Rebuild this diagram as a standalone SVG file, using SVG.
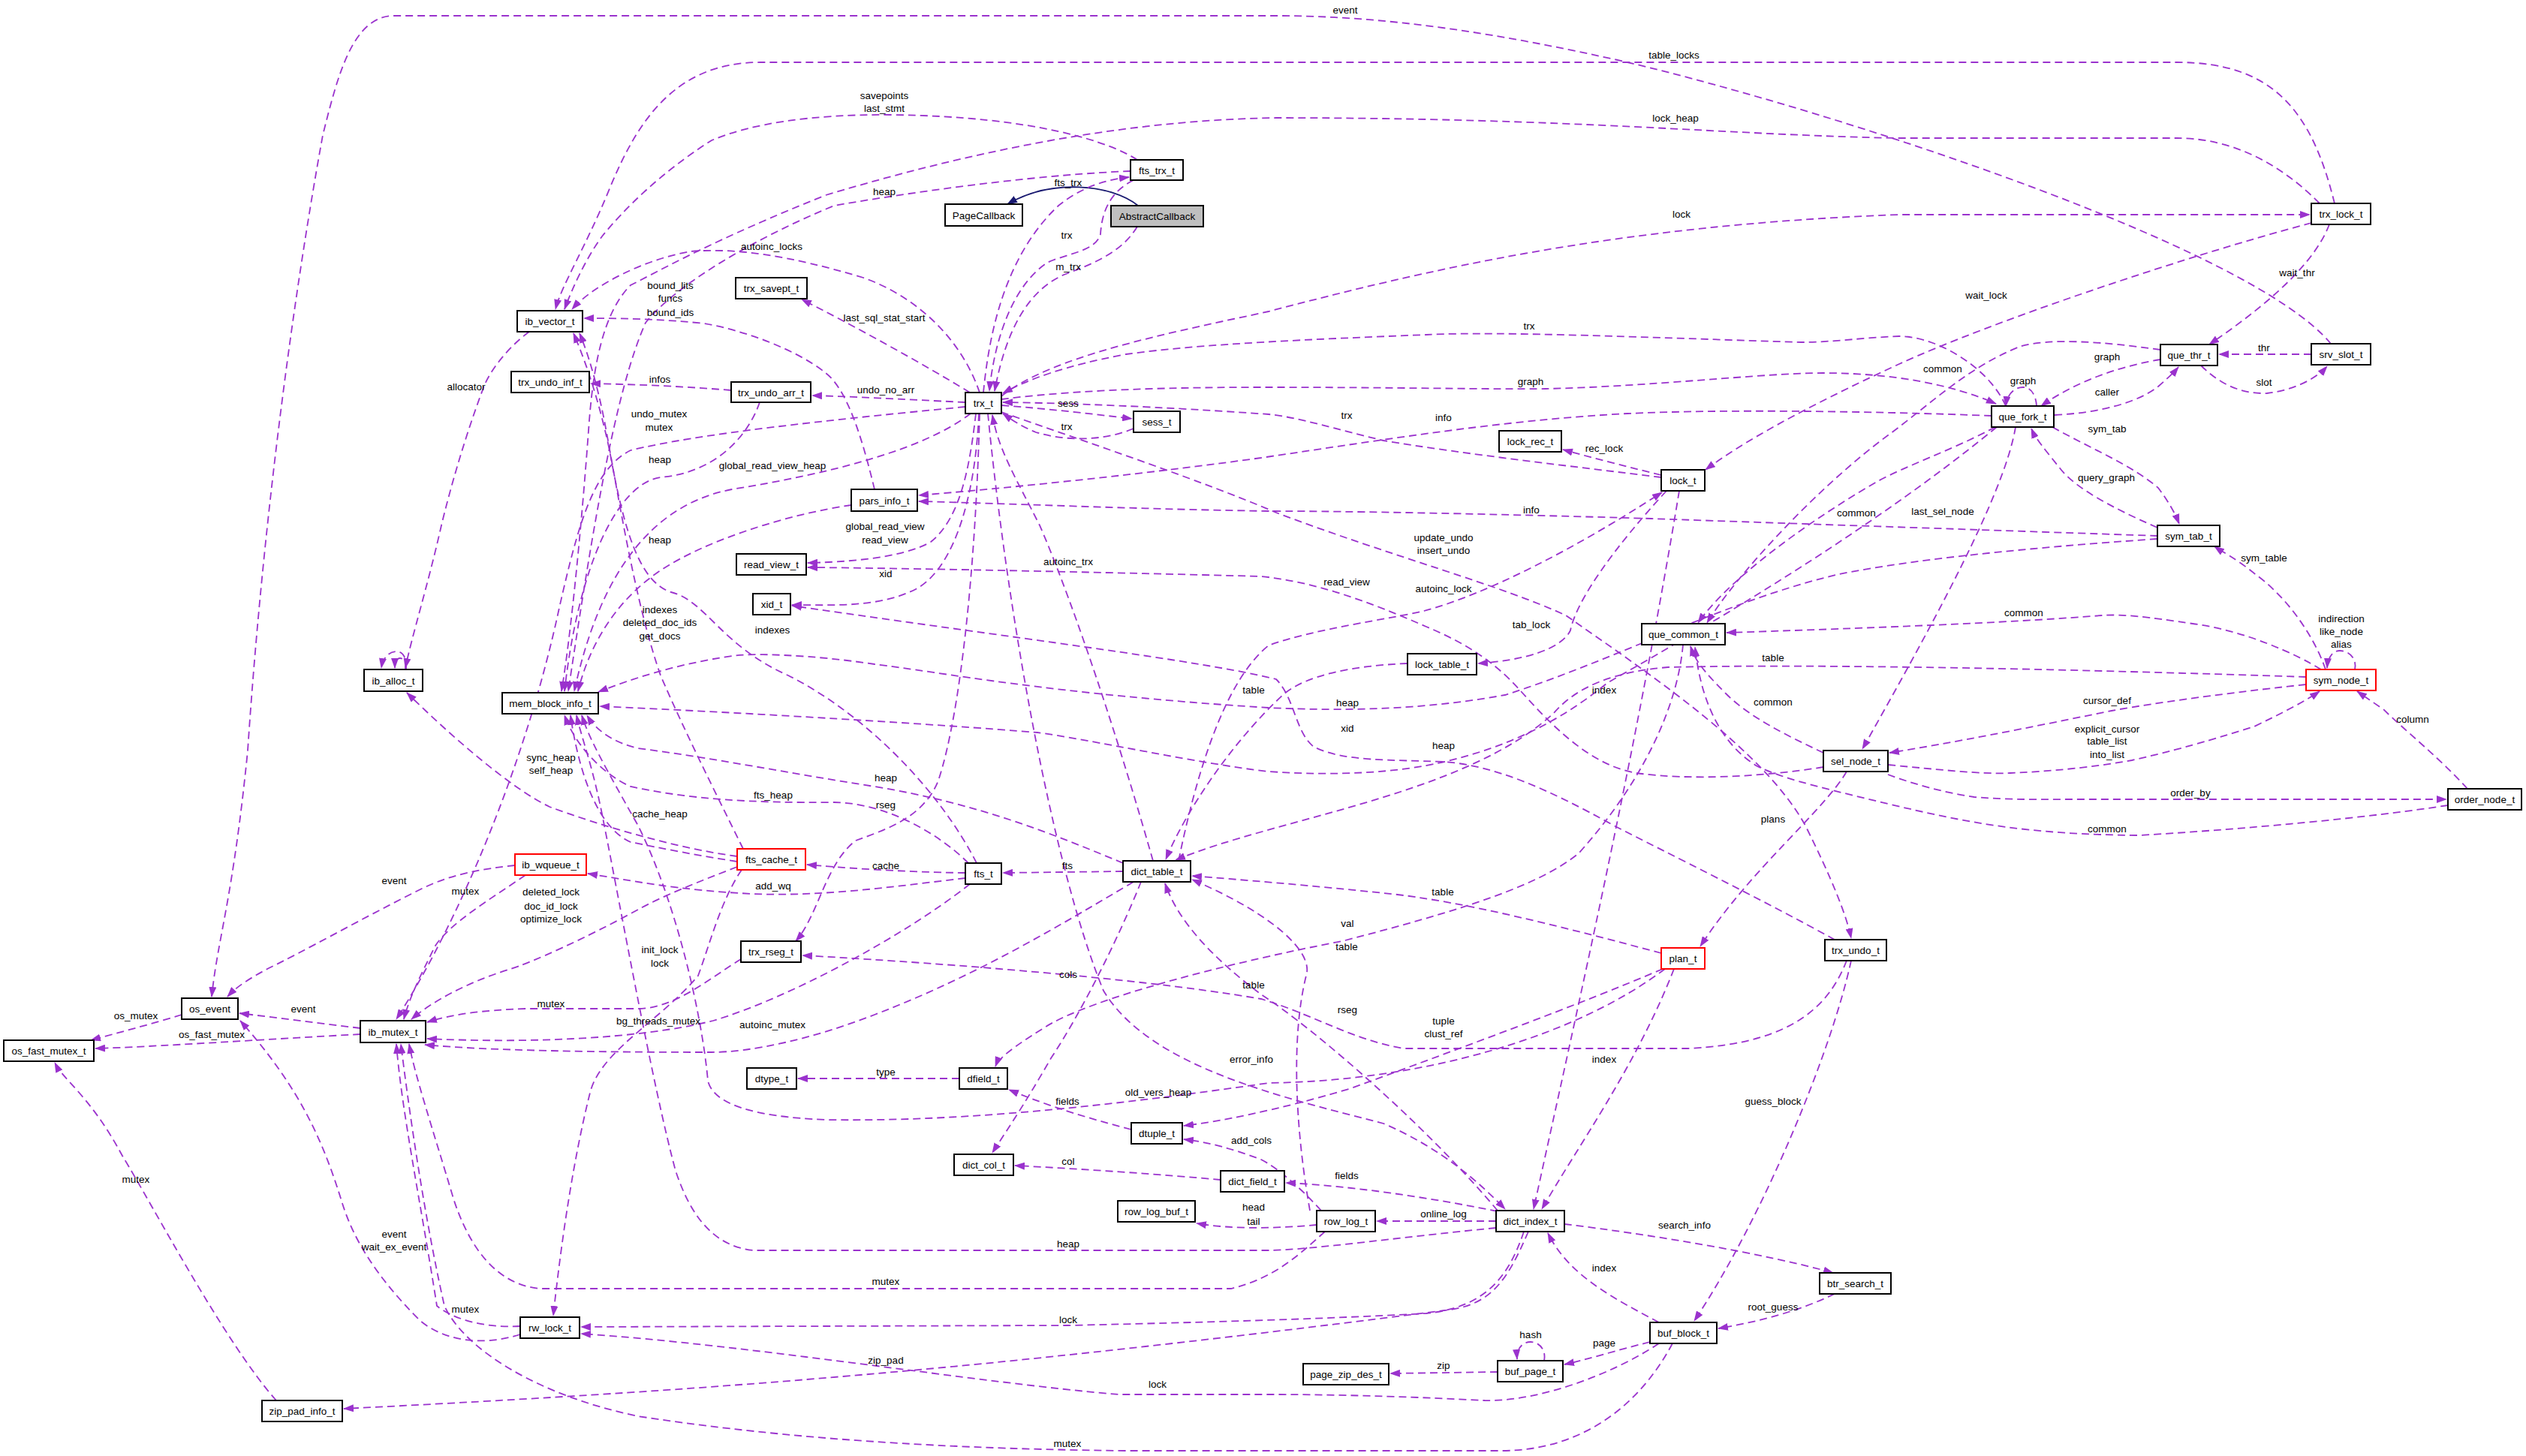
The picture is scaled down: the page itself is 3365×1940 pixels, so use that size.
<svg xmlns="http://www.w3.org/2000/svg" width="3365" height="1940" viewBox="0 0 3365 1940">
<defs>
<marker id="a" markerUnits="userSpaceOnUse" viewBox="0 0 14 10" markerWidth="14" markerHeight="10" refX="13" refY="5" orient="auto"><path d="M0,0 L14,5 L0,10 z" fill="#9a32cd"/></marker>
<marker id="b" markerUnits="userSpaceOnUse" viewBox="0 0 14 10" markerWidth="14" markerHeight="10" refX="13" refY="5" orient="auto"><path d="M0,0 L14,5 L0,10 z" fill="#191970"/></marker>
</defs>
<style>
.e path{fill:none;stroke:#9a32cd;stroke-width:1.8;stroke-dasharray:10,6;marker-end:url(#a)}
.e path.i{stroke:#191970;stroke-dasharray:none;marker-end:url(#b)}
.n rect{fill:#fff;stroke:#000;stroke-width:2}
.n.r rect{stroke:#f00}
.n.g rect{fill:#bfbfbf}
text{font-family:"Liberation Sans",Arial,sans-serif;font-size:13.5px;fill:#000;text-anchor:middle}
</style>
<rect x="0" y="0" width="3365" height="1940" fill="#fff"/>
<g id="connectors" class="e">
<path class="i" d="M1516,274 C1480,245 1400,238 1342,272"/>
<path d="M1515,302 C1495,335 1460,350 1420,365 C1370,385 1340,440 1325,521"/>
<path d="M1510,240 C1480,255 1468,280 1466,312 C1460,335 1420,338 1395,350 C1350,380 1325,450 1318,521"/>
<path d="M1310,523 C1318,440 1340,340 1410,274 C1440,250 1470,240 1504,236"/>
<path d="M1334,528 C1400,475 1550,445 1690,415 C1900,360 2150,300 2530,286 L3077,286"/>
<path d="M1292,523 C1230,485 1130,430 1068,399"/>
<path d="M1286,536 C1200,532 1130,528 1082,527"/>
<path d="M974,520 C900,514 840,512 787,511"/>
<path d="M1012,536 C995,585 950,630 880,636 C820,645 770,760 752,921"/>
<path d="M1286,542 C1100,560 930,578 840,600 C790,625 770,700 745,810 C700,1020 610,1230 528,1358"/>
<path d="M1293,551 C1230,600 1100,632 975,652 C870,672 800,760 765,921"/>
<path d="M1316,551 C1340,800 1400,1150 1470,1320 C1530,1420 1700,1460 1843,1497 C1920,1530 1970,1575 2005,1611"/>
<path d="M1536,1147 C1480,950 1420,780 1385,700 C1355,640 1330,600 1322,553"/>
<path d="M1334,549 C1450,590 1600,640 1700,683 C1850,740 2000,780 2086,820 C2200,900 2350,1000 2405,1100 C2440,1170 2460,1220 2466,1250"/>
<path d="M1510,571 C1470,588 1420,588 1380,576 C1360,568 1346,558 1336,551"/>
<path d="M1334,540 C1400,545 1460,552 1508,558"/>
<path d="M2672,541 C2650,490 2580,448 2530,448 C2480,450 2440,456 2400,456 C2200,450 2000,441 1900,446 C1750,452 1600,458 1500,472 C1420,487 1370,505 1336,524"/>
<path d="M1334,532 C1450,517 1600,516 1690,516 C1850,516 2000,519 2059,518 C2200,515 2350,497 2428,497 C2520,497 2600,512 2659,538"/>
<path d="M2213,636 C2100,622 1950,605 1843,587 C1780,572 1730,556 1690,552 C1550,542 1420,537 1336,536"/>
<path d="M2653,554 C2500,548 2300,545 2168,551 C2000,560 1850,585 1680,610 C1500,635 1320,652 1224,660"/>
<path d="M2874,714 C2700,708 2400,698 2200,691 C2000,685 1800,681 1690,681 C1500,678 1350,671 1224,668"/>
<path d="M2213,633 C2160,620 2110,607 2082,599"/>
<path d="M3079,297 C2900,345 2650,430 2530,485 C2400,545 2320,590 2272,626"/>
<path d="M3103,299 C3080,360 3000,420 2943,459"/>
<path d="M3079,472 L2956,472"/>
<path d="M2932,487 C2960,515 2990,525 3020,524 C3055,520 3085,505 3100,488"/>
<path d="M2878,479 C2830,487 2770,505 2719,541"/>
<path d="M2737,553 C2800,550 2850,535 2875,515 C2890,502 2897,495 2902,489"/>
<path d="M2713,541 C2712,525 2705,516 2695,516 C2684,516 2674,524 2672,541"/>
<path d="M2878,466 C2800,455 2730,450 2690,462 C2620,490 2570,540 2515,580 C2420,650 2310,770 2274,830"/>
<path d="M2658,569 C2600,600 2540,620 2500,642 C2400,700 2300,775 2262,830"/>
<path d="M3092,892 C3060,872 2990,840 2921,831 C2860,822 2830,818 2800,820 C2700,828 2550,835 2300,843"/>
<path d="M2429,1003 C2380,980 2330,955 2300,925 C2270,895 2258,880 2252,861"/>
<path d="M3261,1073 C3150,1090 3000,1104 2850,1113 C2700,1112 2620,1096 2515,1071 C2450,1055 2380,1040 2341,1021 C2290,990 2265,930 2258,862"/>
<path d="M2242,859 C2235,940 2190,1040 2103,1137 C2050,1180 1950,1212 1788,1254 C1650,1280 1450,1330 1390,1370 C1350,1395 1330,1410 1326,1421"/>
<path d="M2734,569 C2790,600 2840,620 2875,650 C2890,670 2898,685 2903,698"/>
<path d="M2874,703 C2810,675 2765,650 2745,625 C2725,600 2712,585 2706,571"/>
<path d="M2685,569 C2670,660 2570,840 2481,998"/>
<path d="M2660,569 C2500,700 2300,820 2141,910 C2080,960 2010,995 1924,1015 C1860,1030 1780,1034 1690,1028 C1600,1018 1450,985 1382,976 C1250,965 1000,950 799,941"/>
<path d="M2874,718 C2700,730 2550,745 2450,765 C2300,800 2150,880 2005,926 C1900,945 1800,948 1690,943 C1400,925 1250,895 1165,885 C1080,872 1000,870 975,874 C900,885 840,905 797,922"/>
<path d="M3098,892 C3080,840 3040,790 3003,764 C2980,745 2960,735 2950,728"/>
<path d="M3137,892 C3140,878 3130,867 3117,867 C3107,867 3101,876 3100,890"/>
<path d="M3072,912 C2950,925 2850,940 2813,947 C2700,970 2600,990 2517,1003"/>
<path d="M2515,1019 C2580,1025 2640,1032 2678,1030 C2750,1027 2800,1020 2840,1013 C2920,995 2980,975 3003,968 C3040,950 3070,935 3090,921"/>
<path d="M2515,1032 C2550,1045 2590,1056 2630,1062 C2680,1066 2720,1065 2760,1065 L3259,1065"/>
<path d="M3287,1051 C3250,1010 3200,970 3175,945 C3160,935 3150,928 3140,921"/>
<path d="M3072,902 C2800,893 2450,884 2222,889 C2150,895 2100,915 2070,950 C1950,1060 1700,1090 1566,1146"/>
<path d="M2460,1028 C2430,1080 2330,1160 2265,1261"/>
<path d="M2429,1022 C2350,1035 2250,1040 2180,1030 C2120,1020 2070,970 2027,922 C1990,880 1950,856 1900,835 C1820,800 1750,775 1680,768 C1450,762 1200,757 1076,756"/>
<path d="M2220,654 C2150,730 2100,800 2092,840 C2080,865 2030,880 1969,884"/>
<path d="M1570,1147 C1600,1000 1640,900 1690,860 C1750,838 1850,825 1897,814 C1980,792 2100,730 2214,656"/>
<path d="M1875,884 C1800,887 1740,900 1710,925 C1640,990 1580,1080 1553,1145"/>
<path d="M2237,654 C2180,1000 2100,1350 2043,1611"/>
<path d="M1496,1161 L1336,1163"/>
<path d="M1286,1163 C1200,1162 1120,1156 1075,1152"/>
<path d="M1286,1170 C1200,1180 1100,1195 1003,1191 C900,1186 840,1173 783,1164"/>
<path d="M1290,1150 C1250,1110 1180,1070 1111,1069 C1000,1070 920,1065 840,1048 C800,1030 765,990 752,953"/>
<path d="M1301,1150 C1250,1050 1150,950 1050,900 C960,860 940,800 894,789 C850,775 830,700 812,600 C795,520 775,470 764,444"/>
<path d="M1292,1178 C1200,1250 1050,1330 950,1360 C850,1385 700,1390 569,1384"/>
<path d="M1510,1175 C1400,1240 1300,1300 1165,1352 C1080,1385 1000,1402 948,1402 C800,1402 650,1400 566,1392"/>
<path d="M987,1278 C950,1300 900,1344 850,1344 L700,1344 C640,1346 600,1352 569,1362"/>
<path d="M982,1155 C930,1175 880,1195 850,1212 C780,1250 710,1282 677,1292 C620,1310 575,1335 548,1358"/>
<path d="M988,1159 C960,1200 945,1260 930,1300 C880,1360 800,1400 786,1456 C760,1560 745,1680 737,1753"/>
<path d="M982,1141 C900,1130 800,1100 732,1075 C680,1050 600,980 542,923"/>
<path d="M990,1131 C950,1050 910,970 880,900 C845,800 822,650 805,560 C795,510 783,470 772,444"/>
<path d="M982,1148 C930,1140 880,1130 840,1122 C790,1100 768,1010 760,953"/>
<path d="M686,1153 C640,1158 600,1165 560,1185 C480,1225 400,1270 358,1290 C330,1305 315,1315 303,1328"/>
<path d="M700,1166 C650,1200 600,1230 580,1260 C560,1300 545,1330 538,1358"/>
<path d="M480,1370 L319,1350"/>
<path d="M480,1378 C350,1385 200,1395 127,1397"/>
<path d="M242,1352 C200,1365 150,1378 121,1386"/>
<path d="M368,1866 C300,1790 200,1600 163,1540 C120,1460 85,1440 73,1416"/>
<path d="M693,1778 C640,1795 590,1785 560,1760 C500,1700 470,1650 455,1600 C430,1520 400,1450 320,1360"/>
<path d="M693,1767 C640,1770 600,1755 582,1740 C560,1600 535,1480 528,1391"/>
<path d="M2228,1790 C2180,1880 2100,1933 2000,1933 L1500,1933 C1200,1930 1000,1910 850,1887 C720,1860 620,1800 592,1740 C565,1620 545,1480 534,1391"/>
<path d="M1765,1641 C1730,1672 1700,1702 1640,1717 L720,1717 C660,1712 625,1660 605,1600 C575,1500 552,1430 545,1391"/>
<path d="M1993,1636 C1850,1650 1750,1665 1690,1666 L1003,1666 C950,1660 920,1620 900,1560 C870,1450 825,1200 805,1100 C790,1020 775,985 768,953"/>
<path d="M1993,1627 L1834,1627"/>
<path d="M1995,1614 C1900,1595 1800,1580 1713,1576"/>
<path d="M1995,1613 C1900,1500 1750,1370 1680,1325 C1620,1280 1570,1230 1552,1177"/>
<path d="M2084,1631 C2200,1645 2350,1670 2442,1696"/>
<path d="M2210,1762 C2150,1730 2090,1700 2062,1643"/>
<path d="M2198,1788 C2150,1800 2120,1810 2084,1818"/>
<path d="M2444,1724 C2400,1745 2350,1760 2289,1770"/>
<path d="M2466,1280 C2440,1400 2350,1620 2257,1760"/>
<path d="M2460,1280 C2440,1330 2400,1390 2249,1397 L1870,1397 C1800,1385 1750,1352 1680,1331 C1500,1300 1200,1280 1069,1273"/>
<path d="M2444,1252 C2350,1200 2222,1137 2150,1100 C2060,1050 1990,1020 1924,1015 C1850,1012 1790,1015 1750,995 C1725,975 1725,930 1700,905 C1600,880 1350,850 1055,807"/>
<path d="M2057,1813 C2060,1798 2050,1788 2039,1788 C2028,1788 2020,1797 2021,1811"/>
<path d="M1995,1828 L1852,1830"/>
<path d="M2210,1790 C2150,1830 2050,1868 1978,1866 C1900,1862 1800,1858 1690,1858 L1490,1858 C1300,1842 1000,1792 774,1777"/>
<path d="M2030,1641 C2010,1700 1980,1742 1900,1750 C1750,1758 1600,1762 1423,1766 L774,1768"/>
<path d="M2036,1641 C2010,1700 1990,1740 1924,1746 C1700,1775 1400,1810 1180,1829 C1000,1845 800,1860 458,1877"/>
<path d="M1278,1437 L1063,1437"/>
<path d="M1507,1505 C1450,1490 1400,1475 1344,1452"/>
<path d="M1626,1572 C1550,1565 1450,1558 1352,1553"/>
<path d="M1754,1632 C1700,1637 1640,1638 1594,1630"/>
<path d="M1760,1613 C1730,1580 1700,1555 1680,1545 C1640,1530 1610,1522 1577,1518"/>
<path d="M1745,1613 C1725,1500 1720,1380 1740,1300 C1750,1270 1700,1220 1588,1172"/>
<path d="M2213,1270 C2100,1240 1950,1200 1843,1190 C1750,1180 1650,1172 1588,1167"/>
<path d="M2230,1291 C2180,1420 2100,1530 2054,1611"/>
<path d="M2215,1291 C2100,1340 1950,1395 1800,1450 C1700,1480 1620,1495 1577,1500"/>
<path d="M2218,1291 C2100,1380 1900,1440 1690,1443 C1500,1470 1300,1495 1100,1492 C1000,1488 950,1470 943,1440 C935,1350 900,1200 850,1100 C805,1020 785,985 775,953"/>
<path d="M1520,1175 C1490,1250 1440,1350 1400,1410 C1360,1480 1335,1515 1322,1536"/>
<path d="M1496,1150 C1400,1110 1300,1070 1165,1048 C1050,1030 950,1010 850,997 C820,990 795,975 782,953"/>
<path d="M705,442 C680,460 655,490 645,514 C620,580 600,650 588,700 C570,780 548,850 540,890"/>
<path d="M540,892 C543,878 537,868 528,868 C518,868 510,877 508,890"/>
<path d="M541,892 C542,883 538,877 533,877 C528,877 526,883 526,890"/>
<path d="M3090,271 C3020,200 2950,184 2900,184 L2530,184 C2300,180 2100,157 1700,157 C1500,160 1300,200 1100,260 C950,320 880,360 840,380 C800,420 790,500 785,560 C775,700 760,850 748,921"/>
<path d="M3110,271 C3080,150 3030,83 2900,83 L1013,83 C900,83 850,160 813,249 C780,330 748,380 740,412"/>
<path d="M1515,213 C1480,190 1380,155 1187,153 C1080,152 1000,165 948,187 C880,230 830,280 802,315 C780,345 762,385 752,412"/>
<path d="M1506,228 C1400,232 1250,250 1111,274 C1000,320 900,380 860,430 C820,520 790,700 757,921"/>
<path d="M1305,523 C1280,450 1220,395 1150,370 C1050,340 980,330 920,335 C860,345 790,380 762,412"/>
<path d="M1165,652 C1150,590 1130,520 1100,497 C1060,465 990,440 938,431 C880,425 830,424 778,424"/>
<path d="M1134,673 C1050,685 940,720 880,760 C820,800 785,860 770,921"/>
<path d="M3105,458 C3000,330 2450,150 2168,83 C2000,45 1850,21 1700,21 L525,21 C470,21 450,100 430,180 C390,400 350,700 330,1000 C310,1200 290,1250 282,1328"/>
<path d="M1305,551 C1300,750 1280,950 1250,1040 C1230,1090 1180,1105 1140,1120 C1100,1150 1090,1220 1060,1254"/>
<path d="M1300,551 C1292,620 1280,690 1240,722 C1200,745 1120,749 1076,750"/>
<path d="M1304,551 C1300,650 1275,755 1220,785 C1170,810 1110,806 1055,806"/>
</g>
<g id="edge-labels">
<text x="1792" y="18">event</text>
<text x="2230" y="78">table_locks</text>
<text x="1178" y="132">savepoints</text><text x="1178" y="149">last_stmt</text>
<text x="2232" y="162">lock_heap</text>
<text x="1178" y="260">heap</text>
<text x="1423" y="248">fts_trx</text>
<text x="2240" y="290">lock</text>
<text x="1421" y="318">trx</text>
<text x="1423" y="360">m_trx</text>
<text x="1028" y="333">autoinc_locks</text>
<text x="893" y="385">bound_lits</text><text x="893" y="402">funcs</text><text x="893" y="421">bound_ids</text>
<text x="1178" y="428">last_sql_stat_start</text>
<text x="2646" y="398">wait_lock</text>
<text x="3060" y="368">wait_thr</text>
<text x="2037" y="439">trx</text>
<text x="621" y="520">allocator</text>
<text x="879" y="510">infos</text>
<text x="1180" y="524">undo_no_arr</text>
<text x="2039" y="513">graph</text>
<text x="2588" y="496">common</text>
<text x="2807" y="480">graph</text>
<text x="2695" y="512">graph</text>
<text x="3016" y="468">thr</text>
<text x="3016" y="514">slot</text>
<text x="2807" y="527">caller</text>
<text x="1423" y="542">sess</text>
<text x="1421" y="573">trx</text>
<text x="1794" y="558">trx</text>
<text x="1923" y="561">info</text>
<text x="2137" y="602">rec_lock</text>
<text x="2807" y="576">sym_tab</text>
<text x="878" y="556">undo_mutex</text><text x="878" y="574">mutex</text>
<text x="879" y="617">heap</text>
<text x="1029" y="625">global_read_view_heap</text>
<text x="2806" y="641">query_graph</text>
<text x="2588" y="686">last_sel_node</text>
<text x="2473" y="688">common</text>
<text x="2040" y="684">info</text>
<text x="879" y="724">heap</text>
<text x="1179" y="706">global_read_view</text><text x="1179" y="724">read_view</text>
<text x="1923" y="721">update_undo</text><text x="1923" y="738">insert_undo</text>
<text x="1423" y="753">autoinc_trx</text>
<text x="1180" y="769">xid</text>
<text x="1794" y="780">read_view</text>
<text x="1923" y="789">autoinc_lock</text>
<text x="3016" y="748">sym_table</text>
<text x="3119" y="829">indirection</text><text x="3119" y="846">like_node</text><text x="3119" y="863">alias</text>
<text x="2696" y="821">common</text>
<text x="879" y="817">indexes</text><text x="879" y="834">deleted_doc_ids</text><text x="879" y="852">get_docs</text>
<text x="1029" y="844">indexes</text>
<text x="2040" y="837">tab_lock</text>
<text x="2137" y="924">index</text>
<text x="2362" y="881">table</text>
<text x="1670" y="924">table</text>
<text x="1795" y="941">heap</text>
<text x="2807" y="938">cursor_def</text>
<text x="2362" y="940">common</text>
<text x="1795" y="975">xid</text>
<text x="1923" y="998">heap</text>
<text x="2807" y="976">explicit_cursor</text><text x="2807" y="992">table_list</text><text x="2807" y="1010">into_list</text>
<text x="3214" y="963">column</text>
<text x="734" y="1014">sync_heap</text><text x="734" y="1031">self_heap</text>
<text x="1180" y="1041">heap</text>
<text x="1030" y="1064">fts_heap</text>
<text x="1180" y="1077">rseg</text>
<text x="2918" y="1061">order_by</text>
<text x="879" y="1089">cache_heap</text>
<text x="2807" y="1109">common</text>
<text x="2362" y="1096">plans</text>
<text x="525" y="1178">event</text>
<text x="620" y="1192">mutex</text>
<text x="734" y="1193">deleted_lock</text><text x="734" y="1212">doc_id_lock</text><text x="734" y="1229">optimize_lock</text>
<text x="1180" y="1158">cache</text>
<text x="1422" y="1158">fts</text>
<text x="1030" y="1185">add_wq</text>
<text x="1795" y="1235">val</text>
<text x="1922" y="1193">table</text>
<text x="1794" y="1266">table</text>
<text x="879" y="1270">init_lock</text><text x="879" y="1288">lock</text>
<text x="1423" y="1303">cols</text>
<text x="1670" y="1317">table</text>
<text x="1795" y="1350">rseg</text>
<text x="1923" y="1365">tuple</text><text x="1923" y="1382">clust_ref</text>
<text x="734" y="1342">mutex</text>
<text x="877" y="1365">bg_threads_mutex</text>
<text x="1029" y="1370">autoinc_mutex</text>
<text x="404" y="1349">event</text>
<text x="181" y="1358">os_mutex</text>
<text x="282" y="1383">os_fast_mutex</text>
<text x="2137" y="1416">index</text>
<text x="1180" y="1433">type</text>
<text x="1667" y="1416">error_info</text>
<text x="1543" y="1460">old_vers_heap</text>
<text x="1422" y="1472">fields</text>
<text x="2362" y="1472">guess_block</text>
<text x="1667" y="1524">add_cols</text>
<text x="1423" y="1552">col</text>
<text x="1794" y="1571">fields</text>
<text x="181" y="1576">mutex</text>
<text x="1670" y="1613">head</text><text x="1670" y="1632">tail</text>
<text x="1923" y="1622">online_log</text>
<text x="2244" y="1637">search_info</text>
<text x="1423" y="1662">heap</text>
<text x="2137" y="1694">index</text>
<text x="2362" y="1746">root_guess</text>
<text x="1180" y="1712">mutex</text>
<text x="525" y="1649">event</text><text x="525" y="1666">wait_ex_event</text>
<text x="620" y="1749">mutex</text>
<text x="2039" y="1783">hash</text>
<text x="1423" y="1763">lock</text>
<text x="2137" y="1794">page</text>
<text x="1923" y="1824">zip</text>
<text x="1180" y="1817">zip_pad</text>
<text x="1542" y="1849">lock</text>
<text x="1422" y="1928">mutex</text>
</g>
<g id="n_ib_vector_t" class="n"><rect x="689" y="414" width="87" height="28"/><text x="732.5" y="433">ib_vector_t</text></g>
<g id="n_trx_undo_inf_t" class="n"><rect x="681" y="495" width="104" height="28"/><text x="733" y="514">trx_undo_inf_t</text></g>
<g id="n_fts_trx_t" class="n"><rect x="1506" y="213" width="70" height="27"/><text x="1541" y="231.5">fts_trx_t</text></g>
<g id="n_PageCallback" class="n"><rect x="1259" y="272" width="103" height="29"/><text x="1310.5" y="291.5">PageCallback</text></g>
<g id="n_AbstractCallback" class="n g"><rect x="1480" y="274" width="123" height="28"/><text x="1541.5" y="293">AbstractCallback</text></g>
<g id="n_trx_savept_t" class="n"><rect x="980" y="370" width="95" height="28"/><text x="1027.5" y="389">trx_savept_t</text></g>
<g id="n_trx_undo_arr_t" class="n"><rect x="974" y="509" width="106" height="27"/><text x="1027" y="527.5">trx_undo_arr_t</text></g>
<g id="n_trx_t" class="n"><rect x="1286" y="523" width="48" height="28"/><text x="1310" y="542">trx_t</text></g>
<g id="n_sess_t" class="n"><rect x="1510" y="548" width="62" height="28"/><text x="1541" y="567">sess_t</text></g>
<g id="n_lock_rec_t" class="n"><rect x="1997" y="574" width="83" height="28"/><text x="2038.5" y="593">lock_rec_t</text></g>
<g id="n_lock_t" class="n"><rect x="2213" y="626" width="58" height="28"/><text x="2242" y="645">lock_t</text></g>
<g id="n_trx_lock_t" class="n"><rect x="3079" y="271" width="79" height="28"/><text x="3118.5" y="290">trx_lock_t</text></g>
<g id="n_que_thr_t" class="n"><rect x="2878" y="459" width="76" height="28"/><text x="2916" y="478">que_thr_t</text></g>
<g id="n_srv_slot_t" class="n"><rect x="3079" y="458" width="79" height="28"/><text x="3118.5" y="477">srv_slot_t</text></g>
<g id="n_que_fork_t" class="n"><rect x="2653" y="541" width="83" height="28"/><text x="2694.5" y="560">que_fork_t</text></g>
<g id="n_ib_alloc_t" class="n"><rect x="485" y="892" width="78" height="29"/><text x="524" y="911.5">ib_alloc_t</text></g>
<g id="n_mem_block_info_t" class="n"><rect x="669" y="923" width="128" height="28"/><text x="733" y="942">mem_block_info_t</text></g>
<g id="n_ib_wqueue_t" class="n r"><rect x="686" y="1138" width="95" height="28"/><text x="733.5" y="1157">ib_wqueue_t</text></g>
<g id="n_pars_info_t" class="n"><rect x="1134" y="652" width="88" height="29"/><text x="1178" y="671.5">pars_info_t</text></g>
<g id="n_read_view_t" class="n"><rect x="981" y="738" width="93" height="28"/><text x="1027.5" y="757">read_view_t</text></g>
<g id="n_xid_t" class="n"><rect x="1003" y="791" width="50" height="28"/><text x="1028" y="810">xid_t</text></g>
<g id="n_fts_cache_t" class="n r"><rect x="982" y="1131" width="91" height="28"/><text x="1027.5" y="1150">fts_cache_t</text></g>
<g id="n_fts_t" class="n"><rect x="1286" y="1150" width="48" height="28"/><text x="1310" y="1169">fts_t</text></g>
<g id="n_dict_table_t" class="n"><rect x="1496" y="1147" width="90" height="28"/><text x="1541" y="1166">dict_table_t</text></g>
<g id="n_trx_rseg_t" class="n"><rect x="987" y="1254" width="80" height="28"/><text x="1027" y="1273">trx_rseg_t</text></g>
<g id="n_que_common_t" class="n"><rect x="2187" y="831" width="111" height="28"/><text x="2242.5" y="850">que_common_t</text></g>
<g id="n_lock_table_t" class="n"><rect x="1875" y="871" width="92" height="28"/><text x="1921" y="890">lock_table_t</text></g>
<g id="n_sel_node_t" class="n"><rect x="2429" y="1000" width="86" height="28"/><text x="2472" y="1019">sel_node_t</text></g>
<g id="n_plan_t" class="n r"><rect x="2213" y="1263" width="58" height="28"/><text x="2242" y="1282">plan_t</text></g>
<g id="n_trx_undo_t" class="n"><rect x="2431" y="1252" width="82" height="28"/><text x="2472" y="1271">trx_undo_t</text></g>
<g id="n_sym_tab_t" class="n"><rect x="2874" y="700" width="83" height="28"/><text x="2915.5" y="719">sym_tab_t</text></g>
<g id="n_sym_node_t" class="n r"><rect x="3072" y="892" width="93" height="28"/><text x="3118.5" y="911">sym_node_t</text></g>
<g id="n_order_node_t" class="n"><rect x="3261" y="1051" width="98" height="28"/><text x="3310" y="1070">order_node_t</text></g>
<g id="n_os_event" class="n"><rect x="242" y="1330" width="75" height="28"/><text x="279.5" y="1349">os_event</text></g>
<g id="n_os_fast_mutex_t" class="n"><rect x="5" y="1386" width="120" height="28"/><text x="65" y="1405">os_fast_mutex_t</text></g>
<g id="n_ib_mutex_t" class="n"><rect x="480" y="1360" width="87" height="29"/><text x="523.5" y="1379.5">ib_mutex_t</text></g>
<g id="n_rw_lock_t" class="n"><rect x="693" y="1755" width="79" height="28"/><text x="732.5" y="1774">rw_lock_t</text></g>
<g id="n_zip_pad_info_t" class="n"><rect x="349" y="1866" width="107" height="28"/><text x="402.5" y="1885">zip_pad_info_t</text></g>
<g id="n_dtype_t" class="n"><rect x="995" y="1423" width="66" height="28"/><text x="1028" y="1442">dtype_t</text></g>
<g id="n_dfield_t" class="n"><rect x="1278" y="1423" width="64" height="28"/><text x="1310" y="1442">dfield_t</text></g>
<g id="n_dtuple_t" class="n"><rect x="1507" y="1496" width="68" height="28"/><text x="1541" y="1515">dtuple_t</text></g>
<g id="n_dict_col_t" class="n"><rect x="1271" y="1538" width="79" height="28"/><text x="1310.5" y="1557">dict_col_t</text></g>
<g id="n_row_log_buf_t" class="n"><rect x="1489" y="1600" width="103" height="28"/><text x="1540.5" y="1619">row_log_buf_t</text></g>
<g id="n_dict_field_t" class="n"><rect x="1626" y="1560" width="85" height="28"/><text x="1668.5" y="1579">dict_field_t</text></g>
<g id="n_row_log_t" class="n"><rect x="1754" y="1613" width="78" height="28"/><text x="1793" y="1632">row_log_t</text></g>
<g id="n_dict_index_t" class="n"><rect x="1993" y="1613" width="91" height="28"/><text x="2038.5" y="1632">dict_index_t</text></g>
<g id="n_btr_search_t" class="n"><rect x="2424" y="1696" width="95" height="28"/><text x="2471.5" y="1715">btr_search_t</text></g>
<g id="n_buf_block_t" class="n"><rect x="2198" y="1762" width="89" height="28"/><text x="2242.5" y="1781">buf_block_t</text></g>
<g id="n_buf_page_t" class="n"><rect x="1995" y="1813" width="87" height="28"/><text x="2038.5" y="1832">buf_page_t</text></g>
<g id="n_page_zip_des_t" class="n"><rect x="1736" y="1817" width="114" height="28"/><text x="1793" y="1836">page_zip_des_t</text></g>
</svg>
